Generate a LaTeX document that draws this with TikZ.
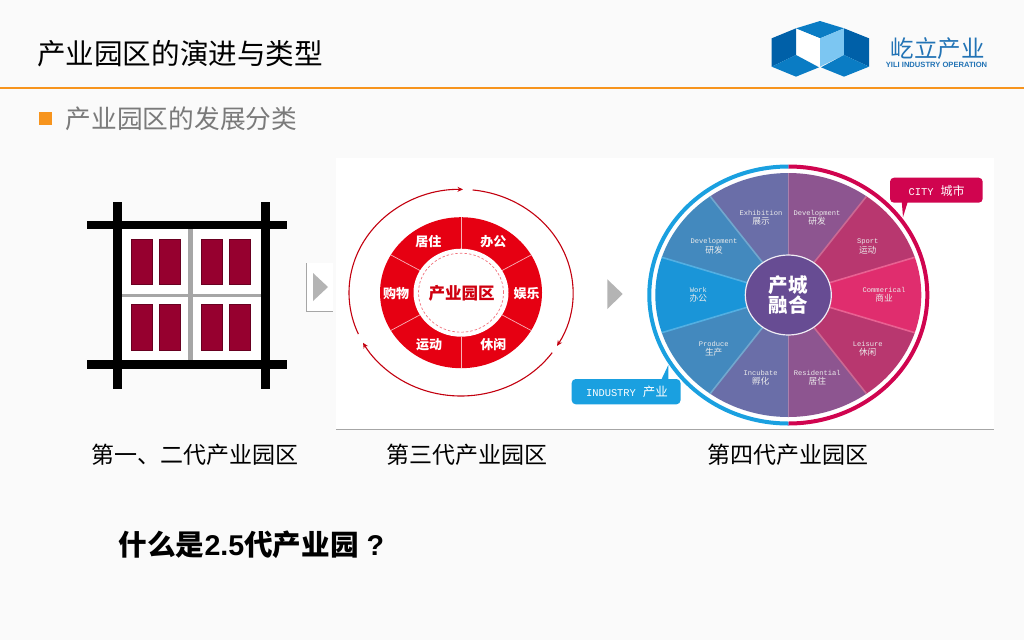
\documentclass[tikz,border=0pt]{standalone}
\usepackage{fontspec}
\setmainfont{Liberation Sans}
\newfontfamily\cjk{Noto Sans CJK SC}
\newfontfamily\lat{Liberation Mono}
\usetikzlibrary{arrows.meta}
\definecolor{bgc}{HTML}{FAFAFA}
\definecolor{orangec}{HTML}{F7941D}
\definecolor{roadred}{HTML}{96002F}
\definecolor{donut}{HTML}{E60012}
\definecolor{cityc}{HTML}{D0044F}
\definecolor{indc}{HTML}{1AA0E0}
\definecolor{tri}{HTML}{B4B4B4}
\definecolor{logoa}{HTML}{0060A8}
\definecolor{logob}{HTML}{0A7CC4}
\definecolor{logoc}{HTML}{7CC6F2}
\definecolor{logot}{HTML}{2273B5}
\definecolor{sa}{HTML}{8D5590}
\definecolor{sb}{HTML}{B8376F}
\definecolor{sc}{HTML}{E02D6E}
\definecolor{sd}{HTML}{6A6EA8}
\definecolor{se}{HTML}{4389BE}
\definecolor{sf}{HTML}{1A95D8}
\definecolor{hub}{HTML}{674C93}
\newcommand{\fs}[1]{\fontsize{#1}{#1}\selectfont}
\tikzset{
  titletext/.style={anchor=center,inner sep=0pt,font=\cjk\fs{28.6},text=black},
  captext/.style={anchor=center,inner sep=0pt,font=\cjk\fs{23},text=black},
  wheeltext/.style={anchor=center,inner sep=0pt,align=center,text=white!92!black,font=\fontsize{8}{9.4}\selectfont},
  donuttext/.style={anchor=center,inner sep=0pt,text=white,font=\cjk\bfseries\fs{13}},
  roadline/.style={fill=black},
  lane/.style={fill=black!35},
  plot/.style={fill=roadred,draw=roadred!70!black,line width=0.4pt},
  tag/.style={rounded corners=4pt},
  redarc/.style={draw=donut!85!black,line width=1.1pt,-{Stealth[length=5.5pt,width=5pt]}}
}
\newcommand{\wl}[2]{{\lat\fs{7.1}#1}\\{\cjk\fs{8.7}#2}}
\begin{document}
\begin{tikzpicture}[x=1pt,y=-1pt]
\useasboundingbox (0,0) rectangle (1024,640);
\fill[bgc] (0,0) rectangle (1024,640);
% header
\node[titletext] (title) at (180,54) {产业园区的演进与类型};
\fill[orangec] (0,87.2) rectangle (1024,88.8);
\fill[orangec] (39,112) rectangle (52,125);
\node[anchor=center,inner sep=0pt,font=\cjk\fs{25.7},text=black!52] (sub) at (181.5,119) {产业园区的发展分类};
% logo
\begin{scope}[shift={(760,10)},x=0.3333pt,y=-0.3333pt]
\fill[logob] (108,55)--(180,33)--(252,55)--(180,85)--cycle;
\fill[white] (108,57)--(180,85)--(180,170)--(108,135)--cycle;
\fill[logoc] (180,85)--(252,55)--(252,135)--(180,170)--cycle;
\fill[logoa] (35,85)--(108,55)--(108,135)--(35,170)--cycle;
\fill[logob] (35,170)--(108,135)--(177,172)--(108,200)--cycle;
\fill[logoa] (252,55)--(327,85)--(327,170)--(252,135)--cycle;
\fill[logob] (183,172)--(252,135)--(327,170)--(252,200)--cycle;
\end{scope}
\node[anchor=center,inner sep=0pt,font=\cjk\fs{23.5},text=logot] (logoname) at (937.5,48.5) {屹立产业};
\node[anchor=center,inner sep=0pt,font=\bfseries\fs{7.6},text=logot] (logosub) at (936.5,64.5) {YILI INDUSTRY OPERATION};
% panels
\fill[white] (336,158) rectangle (994,429);
\draw[black!35,line width=0.8pt] (336,429.3) -- (994,429.3);
\fill[white] (306,263) rectangle (333,311);
\draw[black!35,line width=0.8pt] (306.5,263) -- (306.5,311.5) -- (333,311.5);
\fill[tri] (313,273) -- (313,301) -- (328,287) -- cycle;
\fill[tri] (607.3,279.3) -- (607.3,309) -- (622.7,294) -- cycle;
% site plan
\fill[white] (122,229) rectangle (261,360);
\fill[lane] (188.3,229) rectangle (192.7,360);
\fill[lane] (122,293.7) rectangle (261,297);
\fill[roadline] (113.3,201.7) rectangle (122.3,389.3);
\fill[roadline] (261,201.7) rectangle (270.3,389.3);
\fill[roadline] (86.7,221) rectangle (287,229.3);
\fill[roadline] (86.7,360.3) rectangle (287,369);
\foreach \xa/\xb in {131/152,159/180,201/222,229/250.3}{
  \fill[plot] (\xa,239) rectangle (\xb,283.7);
  \fill[plot] (\xa,304.3) rectangle (\xb,350);
}
% third generation donut
\begin{scope}[shift={(461,292.7)},y=1pt]
\fill[donut] (0,0) ellipse [x radius=81,y radius=75.5];
\foreach \a in {90,30,-30,-90,150,210}{
  \draw[white!70!donut,line width=0.7pt] (\a:47 and 44) -- (\a:81 and 75.5);
}
\fill[white] (0,0) ellipse [x radius=47.5,y radius=44];
\draw[donut!55!white,line width=0.7pt,dash pattern=on 2.5pt off 2pt] (0,0) ellipse [x radius=42.5,y radius=39.5];
\draw[redarc] (203.6:112 and 103.3) arc[start angle=203.6,end angle=89,x radius=112,y radius=103.3];
\draw[redarc] (84:112 and 103.3) arc[start angle=84,end angle=-31,x radius=112,y radius=103.3];
\draw[redarc] (-35.5:112 and 103.3) arc[start angle=-35.5,end angle=-151,x radius=112,y radius=103.3];
\end{scope}
\node[donuttext] (d1) at (428.3,241.3) {居住};
\node[donuttext] (d2) at (493.3,241.3) {办公};
\node[donuttext] (d3) at (396,293.3) {购物};
\node[donuttext] (d4) at (526.7,293.3) {娱乐};
\node[donuttext] (d5) at (429,344.3) {运动};
\node[donuttext] (d6) at (493.3,344.3) {休闲};
\node[anchor=center,inner sep=0pt,font=\cjk\bfseries\fs{16.5},text=donut!90!black] (dc) at (461.5,293.3) {产业园区};
% fourth generation wheel
\begin{scope}[shift={(788.3,295)},y=1pt]
\foreach \s/\e/\c in {90/54/sa,54/18/sb,18/-18/sc,-18/-54/sb,-54/-90/sa,-90/-126/sd,-126/-162/se,-162/-198/sf,-198/-234/se,-234/-270/sd}{
  \fill[\c] (0,0) -- (\s:133 and 122) arc[start angle=\s,end angle=\e,x radius=133,y radius=122] -- cycle;
}
\foreach \a/\c in {90/sa,54/sb,18/sc,-18/sc,-54/sb,-90/sa,-126/se,-162/sf,162/sf,126/se}{
  \draw[\c!75!white,line width=1.6pt] (0,0) -- (\a:133 and 122);
}
\draw[cityc,line width=4pt] (90:139 and 128.5) arc[start angle=90,end angle=-90,x radius=139,y radius=128.5];
\draw[indc,line width=4pt] (90:139 and 128.5) arc[start angle=90,end angle=270,x radius=139,y radius=128.5];
\fill[hub,draw=white!90!hub,line width=1.2pt] (0,0) ellipse [x radius=43,y radius=40];
\end{scope}
\node[wheeltext] (w1) at (761,217.7) {\wl{Exhibition}{展示}};
\node[wheeltext] (w2) at (817,217.7) {\wl{Development}{研发}};
\node[wheeltext] (w3) at (714,246.3) {\wl{Development}{研发}};
\node[wheeltext] (w4) at (867.7,246.3) {\wl{Sport}{运动}};
\node[wheeltext] (w5) at (698.3,295) {\wl{Work}{办公}};
\node[wheeltext] (w6) at (884,295) {\wl{Commerical}{商业}};
\node[wheeltext] (w7) at (713.7,349) {\wl{Produce}{生产}};
\node[wheeltext] (w8) at (867.7,349) {\wl{Leisure}{休闲}};
\node[wheeltext] (w9) at (760.7,377.7) {\wl{Incubate}{孵化}};
\node[wheeltext] (w10) at (817.3,377.7) {\wl{Residential}{居住}};
\node[anchor=center,inner sep=0pt,align=center,text=white,font=\cjk\bfseries\fontsize{19.5}{18}\selectfont] (hubtext) at (788.3,295) {产城\\融合};
% tags
\fill[cityc] (901.7,201) -- (908,201) -- (903,217) -- cycle;
\fill[cityc,tag] (890,177.7) rectangle (982.7,202.7);
\node[anchor=center,inner sep=0pt,text=white] (citytag) at (936.7,191) {{\lat\fs{10.4}CITY}\hspace{7pt}{\cjk\fs{12}城市}};
\fill[indc] (668.3,365) -- (660.7,381) -- (668.3,381) -- cycle;
\fill[indc,tag] (571.7,379) rectangle (680.5,404.3);
\node[anchor=center,inner sep=0pt,text=white] (indtag) at (627,392) {{\lat\fs{10.4}INDUSTRY}\hspace{7pt}{\cjk\fs{12.5}产业}};
% captions
\node[captext] (c1) at (195,455) {第一、二代产业园区};
\node[captext] (c2) at (466.5,455) {第三代产业园区};
\node[captext] (c3) at (788,455) {第四代产业园区};
\node[anchor=west,inner sep=0pt,font=\cjk\bfseries\fs{28.6},text=black] (q) at (118.5,545) {什么是{\rmfamily\bfseries 2.5}代产业园{\rmfamily\bfseries\ ?}};
\end{tikzpicture}
\end{document}
